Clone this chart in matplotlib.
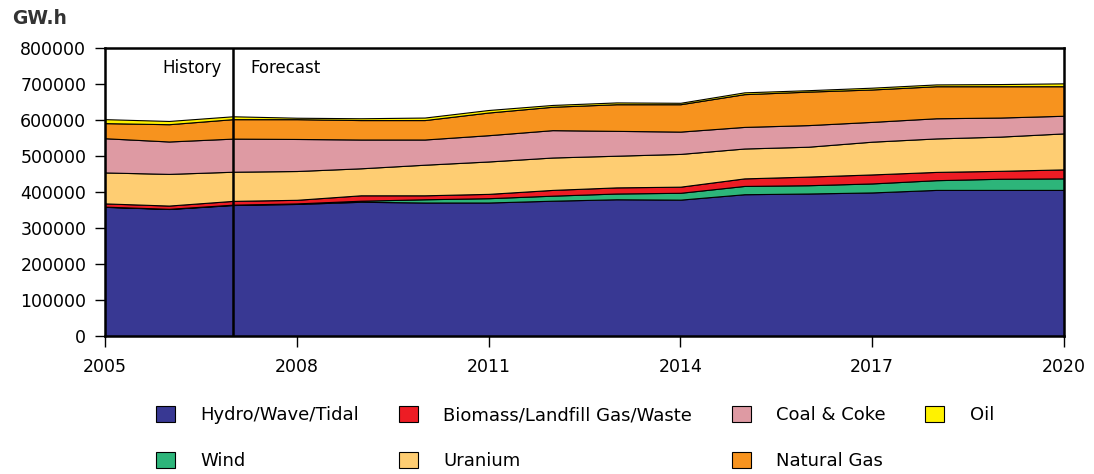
import matplotlib
matplotlib.use("Agg")
import matplotlib.pyplot as plt
import numpy as np

# GW.h by source, stacked bottom -> top
years = list(range(2005, 2021))
hydro = [359, 353, 364, 367, 373, 371, 371, 376, 380, 379, 394, 396, 399, 406, 406, 406]
wind = [0.5, 0.5, 1, 1.5, 3, 9, 12, 14, 16, 19, 23, 23, 25, 27, 31, 32]
biomass = [9, 9, 10.5, 10, 15, 11, 12, 16, 17, 17, 21, 24, 25, 23, 22, 25]
uranium = [86, 88, 81, 80, 75, 85, 90, 90, 88, 91, 83, 83, 91, 93, 95, 100]
coal = [95, 90, 92, 89, 80, 70, 73, 76, 69, 62, 60, 60, 55, 56, 53, 49]
gas = [42, 48, 54, 55, 54, 54, 63, 65, 74, 76, 91, 93, 90, 89, 87, 82]
oil = [11, 9, 8, 4, 5, 7, 7, 5, 5, 4, 5, 4, 5, 5, 6, 8]

labels = ["Hydro/Wave/Tidal", "Wind", "Biomass/Landfill Gas/Waste", "Uranium",
          "Coal & Coke", "Natural Gas", "Oil"]
colors = ["#383893", "#2db57a", "#ed1c24", "#fecd72", "#de9aa3", "#f7931e", "#fff200"]

series = [np.array(s) * 1000 for s in [hydro, wind, biomass, uranium, coal, gas, oil]]

plt.rcParams['font.family'] = ['DejaVu Sans']

fig = plt.figure(figsize=(10.94, 4.74), dpi=100)
ax = fig.add_axes([0.096, 0.291, 0.8766, 0.6076])

polys = ax.stackplot(years, *series, colors=colors, labels=labels,
                     edgecolor="black", linewidth=0.8)

ax.set_xlim(2005, 2020)
ax.set_ylim(0, 800000)
ax.set_xticks([2005, 2008, 2011, 2014, 2017, 2020])
ax.set_yticks(range(0, 800001, 100000))
ax.tick_params(axis="both", labelsize=12.5, width=1, direction="out")
ax.tick_params(axis="y", length=7, pad=6.5)
ax.tick_params(axis="x", length=8, pad=8)
for sp in ax.spines.values():
    sp.set_linewidth(1.8)

# history / forecast split
ax.axvline(2007, color="black", linewidth=1.8)
ax.text(2006.82, 744000, "History", ha="right", va="center", fontsize=12)
ax.text(2007.28, 744000, "Forecast", ha="left", va="center", fontsize=12)

fig.text(0.011, 0.962, "GW.h", fontsize=13.5, fontweight="bold", color="#333333",
         ha="left", va="center")

leg = fig.legend(handles=polys, labels=labels, ncol=4, loc="upper left",
                 bbox_to_anchor=(0.128, 0.178), frameon=False, fontsize=13,
                 handlelength=1.05, handleheight=1.0, handletextpad=1.4,
                 columnspacing=2.2, labelspacing=1.55)
for h in leg.legend_handles:
    h.set_edgecolor("black")
    h.set_linewidth(0.8)

fig.savefig("out.png", dpi=100)
